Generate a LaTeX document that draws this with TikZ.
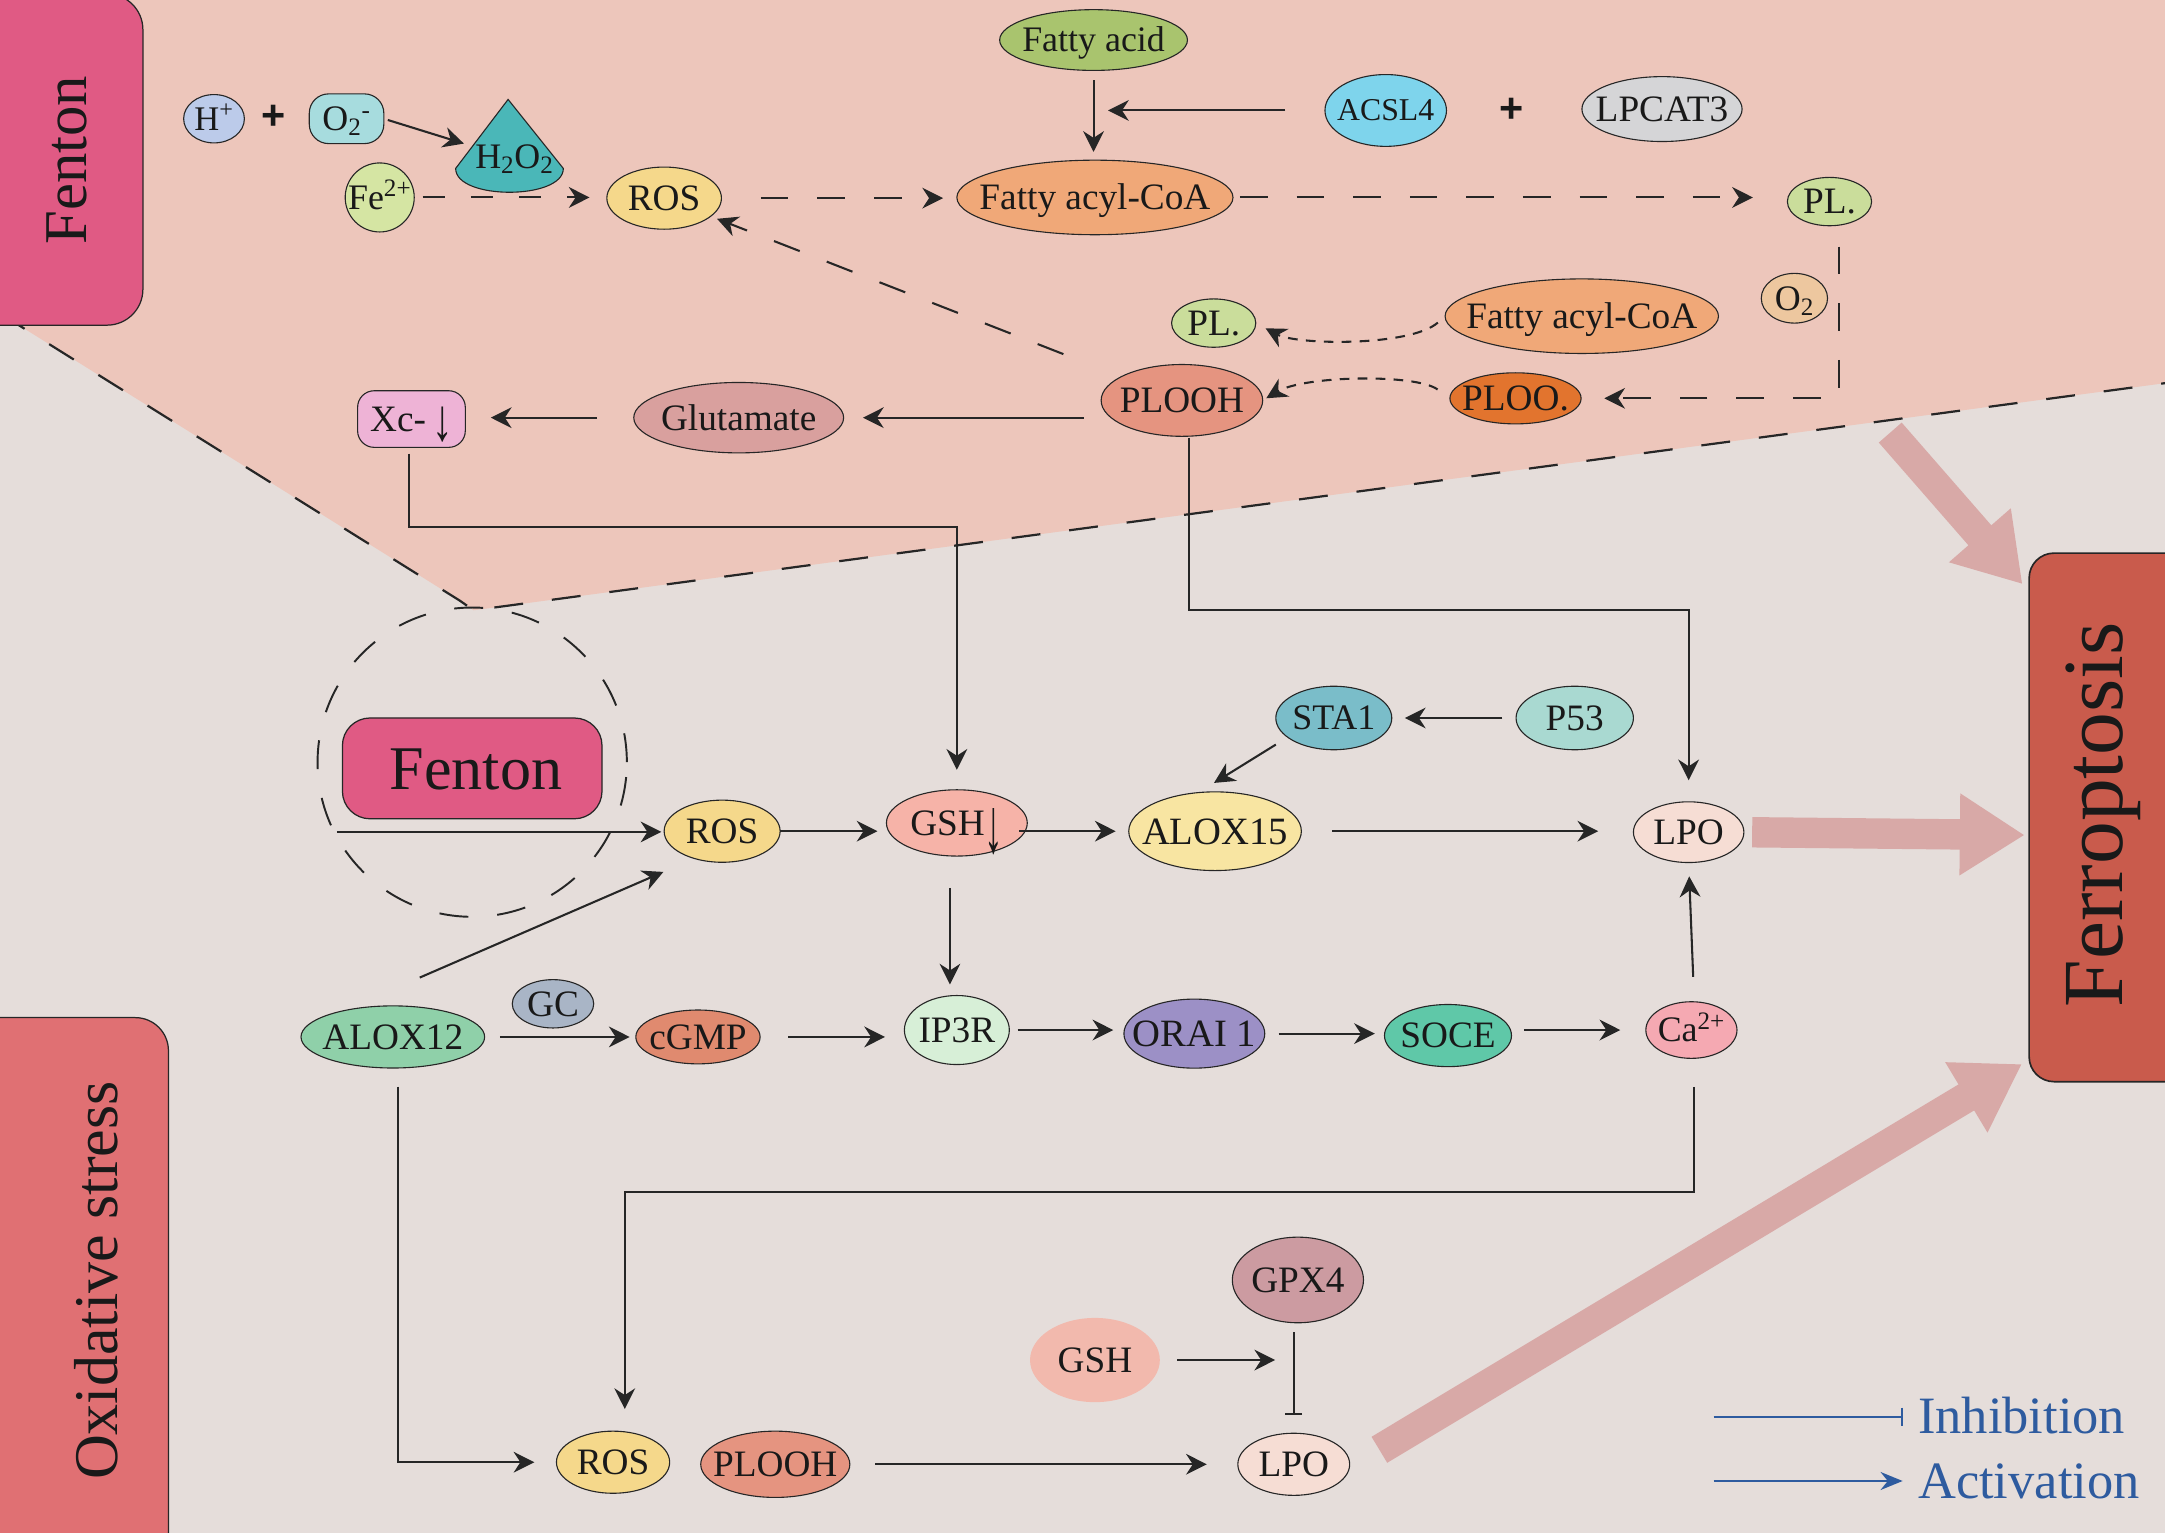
\documentclass[tikz,border=0pt]{standalone}
\usepackage{fontspec}
\setmainfont{Liberation Serif}
\newfontfamily\plusfont{Liberation Sans}
\usepackage{graphicx}
\usetikzlibrary{shapes.geometric,arrows.meta,calc}
\definecolor{bgc}{HTML}{E5DDDA}
\definecolor{pinkc}{HTML}{EDC6BB}
\definecolor{fentc}{HTML}{E05A84}
\definecolor{oxc}{HTML}{E07073}
\definecolor{ferc}{HTML}{C95B4C}
\definecolor{bigc}{HTML}{D8A9A7}
\definecolor{legblue}{HTML}{2E5B9F}
\definecolor{cHp}{HTML}{BCCBEA}
\definecolor{cOtm}{HTML}{A7DCDE}
\definecolor{cHtOt}{HTML}{4AB7B8}
\definecolor{cFe}{HTML}{D5E5A3}
\definecolor{cROS}{HTML}{F5D88B}
\definecolor{cFA}{HTML}{A9C46E}
\definecolor{cACSL}{HTML}{7ED4EC}
\definecolor{cLPC}{HTML}{D5D5D7}
\definecolor{cFAC}{HTML}{F0A878}
\definecolor{cPL}{HTML}{CADD9B}
\definecolor{cOt}{HTML}{EDC79F}
\definecolor{cPLOO}{HTML}{E2742E}
\definecolor{cPLOOH}{HTML}{E59480}
\definecolor{cGlu}{HTML}{D9A09E}
\definecolor{cXc}{HTML}{EEB3D6}
\definecolor{cGSH}{HTML}{F6B3A8}
\definecolor{cAXa}{HTML}{F8E5A2}
\definecolor{cSTA}{HTML}{7ABDC9}
\definecolor{cPft}{HTML}{A9D9D1}
\definecolor{cLPO}{HTML}{F6DDD4}
\definecolor{cAXb}{HTML}{8FD0A9}
\definecolor{cGC}{HTML}{A9B5C6}
\definecolor{cCGMP}{HTML}{E08A6F}
\definecolor{cIPR}{HTML}{D7EFD7}
\definecolor{cORAI}{HTML}{9C90C6}
\definecolor{cSOCE}{HTML}{5FC8A8}
\definecolor{cCa}{HTML}{F5A9B2}
\definecolor{cGPX}{HTML}{CC9BA1}
\definecolor{cGSHb}{HTML}{F2B9AD}
\newcommand{\T}[1]{\smash{\raisebox{-0.331em}{\makebox[0pt]{#1}}}}
\newcommand{\fs}[1]{\fontsize{#1}{#1}\selectfont}
\begin{document}
\begin{tikzpicture}[x=1pt,y=-1pt,
  nd/.style={ellipse, draw=black!85, line width=0.8pt, inner sep=0pt, outer sep=0pt, text=black!90, font=\fs{27}},
  sz/.style 2 args={minimum width=#1pt, minimum height=#2pt},
  bx/.style={rectangle, draw=black!85, line width=0.9pt, inner sep=0pt},
  ar/.style={line width=1.5pt, draw=black!85, -{Stealth[length=15pt,width=15pt]}},
  dar/.style={ar, dash pattern=on 20pt off 21pt},
  dotar/.style={ar, line width=1.5pt, dash pattern=on 7pt off 6pt},
  bnd/.style={draw=black!85, line width=1.6pt, dash pattern=on 21pt off 21pt},
  bigarrow/.style={draw=bigc, line width=22pt, -{Triangle[length=47pt,width=56pt]}},
  inh/.style={line width=1.4pt, draw=black!85, -{Bar[width=12pt,line width=1.6pt]}},
  legi/.style={line width=1.6pt, draw=legblue, -{Bar[width=13pt,line width=1.4pt]}},
  lega/.style={line width=1.6pt, draw=legblue, -{Stealth[length=16pt,width=13pt]}},
  legt/.style={inner sep=0pt, text=legblue, font=\fs{38}},
  plusg/.style={inner sep=0pt, font=\plusfont\fs{30}\bfseries, text=black!90},
  bigt/.style={inner sep=0pt, text=black!90}
]
\useasboundingbox (0,0) rectangle (1568,1110);
\clip (0,0) rectangle (1568,1110);
% backgrounds
\fill[bgc] (0,0) rectangle (1568,1110);
\fill[pinkc] (0,0) -- (1568,0) -- (1568,277.5) -- (343,442) -- (333,435) -- (0,227) -- cycle;
\draw[bnd] (0,227) -- (333,435) -- (343,442) -- (1568,277.5);

% side boxes
\node[bx, fill=fentc, rounded corners=26pt, minimum width=140pt, minimum height=240pt] (fbox1) at (33.5,115.5) {};
\node[bigt, rotate=90, anchor=base, font=\fs{44}] (fentxt1) at (63,116) {Fenton};
\node[bx, fill=oxc, rounded corners=24pt, minimum width=158pt, minimum height=423pt] (oxbox) at (43,948.5) {};
\node[bigt, rotate=90, anchor=base, font=\fs{45}] (oxtxt) at (85,927.5) {Oxidative stress};
\node[bx, fill=ferc, line width=1.2pt, rounded corners=18pt, minimum width=140.4pt, minimum height=382.8pt] (ferro) at (1539.8,592) {};
\node[bigt, rotate=90, anchor=base, font=\fs{62}] (ferrotxt) at (1537,590) {Ferroptosis};

% Fenton circle
\node[circle, draw=black!85, line width=1.4pt, dash pattern=on 21pt off 21pt, minimum size=224pt, inner sep=0pt] (fcirc) at (342,552) {};
\node[bx, fill=fentc, rounded corners=20pt, minimum width=188pt, minimum height=73pt] (fbox2) at (342,556.5) {};
\node[bigt, anchor=base, font=\fs{45}] (fentxt2) at (344.7,572) {Fenton};

% ---- top nodes
\node[nd, sz={44}{35}, fill=cHp, font=\fs{25}] (hplus) at (155,86) {\T{H\textsuperscript{+}}};
\node[plusg] (plus1) at (198,85) {+};
\node[nd, rectangle, rounded corners=14pt, sz={54}{36}, fill=cOtm, font=\fs{26}] (o2m) at (251,86) {\T{O\textsubscript{2}\textsuperscript{-}}};
\filldraw[fill=cHtOt, draw=black!85, line width=0.8pt] (368,72) -- (330,122) .. controls (330,145) and (408,145) .. (408,122) -- cycle;
\node[inner sep=0pt, anchor=base, font=\fs{26}, text=black!90] (h2o2) at (372.6,122) {H\textsubscript{2}O\textsubscript{2}};
\node[nd, sz={50}{50}, fill=cFe, font=\fs{26}] (fe) at (275,143) {\T{Fe\textsuperscript{2+}}};
\node[nd, sz={83}{45}, fill=cROS] (ros1) at (481,143.5) {\T{ROS}};
\node[nd, sz={136}{44}, fill=cFA, font=\fs{26}] (fa) at (792,29) {\T{Fatty acid}};
\node[nd, sz={88}{52}, fill=cACSL, font=\fs{23}] (acsl4) at (1003.6,80) {\T{ACSL4}};
\node[plusg] (plus2) at (1094.8,80) {+};
\node[nd, sz={116}{47}, fill=cLPC] (lpcat3) at (1203.7,79) {\T{LPCAT3}};
\node[nd, sz={200}{54}, fill=cFAC] (facoa1) at (793,143) {\T{Fatty acyl-CoA}};
\node[nd, sz={61}{35}, fill=cPL] (pl1) at (1325,146) {\T{PL.}};
\node[nd, sz={48}{36}, fill=cOt, font=\fs{26}] (o2) at (1299.6,216) {\T{O\textsubscript{2}}};
\node[nd, sz={198}{54}, fill=cFAC] (facoa2) at (1145.6,229) {\T{Fatty acyl-CoA}};
\node[nd, sz={61}{35}, fill=cPL] (pl2) at (879,234) {\T{PL.}};
\node[nd, sz={95}{37}, fill=cPLOO] (ploo) at (1097.6,288.5) {\T{PLOO.}};
\node[nd, sz={117}{52}, fill=cPLOOH] (plooh1) at (856,290) {\T{PLOOH}};
\node[nd, sz={152}{51}, fill=cGlu] (glut) at (535,302.5) {\T{Glutamate}};
\node[nd, rectangle, rounded corners=12pt, sz={78}{41}, fill=cXc] (xc) at (298,303.5) {\T{Xc-\,\raisebox{-0.25em}{\scalebox{1.1}[1.6]{↓}}}};

% ---- middle nodes
\node[nd, sz={84}{45}, fill=cROS] (ros2) at (523,602) {\T{ROS}};
\node[nd, sz={102}{48}, fill=cGSH] (gsh2) at (693,596) {\T{GSH\raisebox{-0.45em}{\scalebox{1}[2.1]{↓}}}};
\node[nd, sz={125}{57}, fill=cAXa, font=\fs{28}] (alox15) at (880,602) {\T{ALOX15}};
\node[nd, sz={84}{46}, fill=cSTA, font=\fs{26}] (sta1) at (966,520) {\T{STA1}};
\node[nd, sz={85}{46}, fill=cPft] (p53) at (1140.5,520) {\T{P53}};
\node[nd, sz={80}{44}, fill=cLPO] (lpo1) at (1223,602.7) {\T{LPO}};
\node[nd, sz={133}{45}, fill=cAXb] (alox12) at (284.5,751) {\T{ALOX12}};
\node[nd, sz={59}{35}, fill=cGC] (gc) at (400.5,727) {\T{GC}};
\node[nd, sz={90}{39}, fill=cCGMP] (cgmp) at (505.5,751) {\T{cGMP}};
\node[nd, sz={76}{50}, fill=cIPR] (ip3r) at (693,746) {\T{IP3R}};
\node[nd, sz={102}{50}, fill=cORAI, font=\fs{28}] (orai) at (865,748.6) {\T{ORAI 1}};
\node[nd, sz={92}{45}, fill=cSOCE] (soce) at (1048.7,750) {\T{SOCE}};
\node[nd, sz={66}{41}, fill=cCa, font=\fs{26}] (ca) at (1225,746) {\T{Ca\textsuperscript{2+}}};

% ---- bottom nodes
\node[nd, sz={82}{45}, fill=cROS] (ros3) at (444,1059) {\T{ROS}};
\node[nd, sz={108}{48}, fill=cPLOOH] (plooh3) at (561.5,1060.5) {\T{PLOOH}};
\node[nd, sz={81}{45}, fill=cLPO] (lpo2) at (937,1060.5) {\T{LPO}};
\node[nd, sz={95}{62}, fill=cGPX] (gpx4) at (940,927) {\T{GPX4}};
\node[nd, draw=none, sz={94}{61}, fill=cGSHb] (gsh3) at (793,985) {\T{GSH}};

% legend
\node[legt, anchor=base west] (inhtxt) at (1389,1038) {Inhibition};
\node[legt, anchor=base west] (acttxt) at (1389,1085) {Activation};
\coordinate (inhs) at (1241,1026);
\coordinate (acts) at (1241,1072.6);
\draw[legi, shorten >=11pt] (inhs) -- (inhs -| inhtxt.west);
\draw[lega, shorten >=11pt] (acts) -- (acts -| acttxt.west);

% ---- top connectors
\coordinate (h2o2in) at (336,104);
\draw[ar, shorten <=3pt] (o2m.east) -- (h2o2in);
\draw[dar, dash pattern=on 16pt off 19pt, shorten <=6pt, shorten >=12.5pt] (fe.east) -- (fe -| ros1.west);
\draw[dar, shorten <=28.5pt, shorten >=10pt] (ros1.east) -- (ros1.east -| facoa1.west);
\draw[dar, shorten <=5pt, shorten >=25pt] (facoa1.east) -- (facoa1.east -| pl1.west);
\draw[ar, shorten <=7pt, shorten >=6pt] (fa.south) -- (fa.south |- facoa1.north);
\coordinate (famid) at (792,80);
\draw[ar, shorten <=28.6pt, shorten >=10.5pt] (acsl4.west) -- (famid);
\draw[dar, shorten >=16.8pt] ($(pl1.south)+(6.7,15.2)$) |- (ploo.east);
\draw[dotar, shorten <=7pt, shorten >=8pt] (facoa2.west) .. controls +(-25,22) and +(30,16) .. (pl2.east);
\draw[dotar, shorten <=11pt, shorten >=3pt] (ploo.west) .. controls +(-25,-18) and +(30,-18) .. (plooh1.east);
\draw[dar, shorten <=45pt, shorten >=5pt] (plooh1) -- (ros1);
\draw[ar, shorten >=14pt] ($(glut -| plooh1.west)+(-12.5,0)$) -- (glut.east);
\draw[ar, shorten <=26.5pt, shorten >=18.5pt] (glut.west) -- (glut.west -| xc.east);
\draw[ar, shorten >=14.5pt] ($(xc.south)+(-2,4.5)$) -- ++(0,53) -| (gsh2.north);
\draw[ar, shorten >=15.6pt] ($(plooh1.south)+(5,1)$) -- ++(0,124.8) -| (lpo1.north);

% ---- middle connectors
\coordinate (fin) at (244,602.5);
\draw[ar, shorten >=2pt] (fin) -- (fin -| ros2.west);
\draw[ar, shorten >=14pt] ($(alox12.north)+(19.5,-20.5)$) -- ($(ros2.south west)+(0,8)$);
\draw[ar, shorten >=6.5pt] (ros2.east) -- (ros2.east -| gsh2.west);
\draw[ar, shorten >=9.5pt] ($(alox15 -| gsh2.east)+(-6,0)$) -- (alox15.west);
\draw[ar, shorten <=22.5pt, shorten >=25.5pt] (alox15.east) -- (alox15.east -| lpo1.west);
\draw[ar, shorten <=10pt, shorten >=9.5pt] (p53.west) -- (sta1.east);
\draw[ar, shorten >=8.5pt] ($(sta1.south west)+(-12.3,3)$) -- ($(alox15.north)+(-8,-2)$);
\draw[ar, shorten <=23pt, shorten >=8pt] ($(gsh2.south)+(-5,0)$) -- ($(ip3r.north)+(-5,0)$);
\draw[ar, shorten <=11pt, shorten >=4.5pt] (alox12.east) -- (alox12.east -| cgmp.west);
\draw[ar, shorten <=20.5pt, shorten >=14pt] (cgmp.east) -- (cgmp.east -| ip3r.west);
\draw[ar, shorten <=6pt, shorten >=7.7pt] (ip3r.east) -- (ip3r.east -| orai.west);
\draw[ar, shorten <=10pt, shorten >=7pt] (orai.east) -- (orai.east -| soce.west);
\draw[ar, shorten <=9pt, shorten >=18.5pt] (ca -| soce.east) -- (ca.west);
\draw[ar, shorten <=18pt, shorten >=10pt] ($(ca.north)+(2,0)$) -- (lpo1.south);
\draw[ar, shorten >=16pt] ($(ca.south)+(2,20.6)$) -- ++(0,76.5) -| ($(ros3.north)+(8.5,0)$);
\draw[ar, shorten >=16pt] ($(alox12.south)+(3.5,13.5)$) |- (ros3.west);

% ---- bottom connectors
\draw[ar, shorten <=18.4pt, shorten >=22.5pt] (plooh3.east) -- (plooh3.east -| lpo2.west);
\draw[ar, shorten <=12.5pt, shorten >=16.5pt] (gsh3.east) -- (gsh3.east -| gpx4.south);
\draw[inh] ($(gpx4.south)+(-3,7)$) -- ($(lpo2.north)+(0,-13)$);

% ---- big arrows
\draw[bigarrow, shorten <=6pt] (lpo1.east) -- ($(ferro.west)+(-2.6,12.8)$);
\draw[bigarrow] ($(lpo2.east)+(21.5,-10.5)$) -- ($(ferro.south west)+(-4.6,-13.4)$);
\coordinate (topin) at (1369,313.3);
\draw[bigarrow] (topin) -- ($(ferro.north west)+(-4.2,23.1)$);
\end{tikzpicture}
\end{document}
